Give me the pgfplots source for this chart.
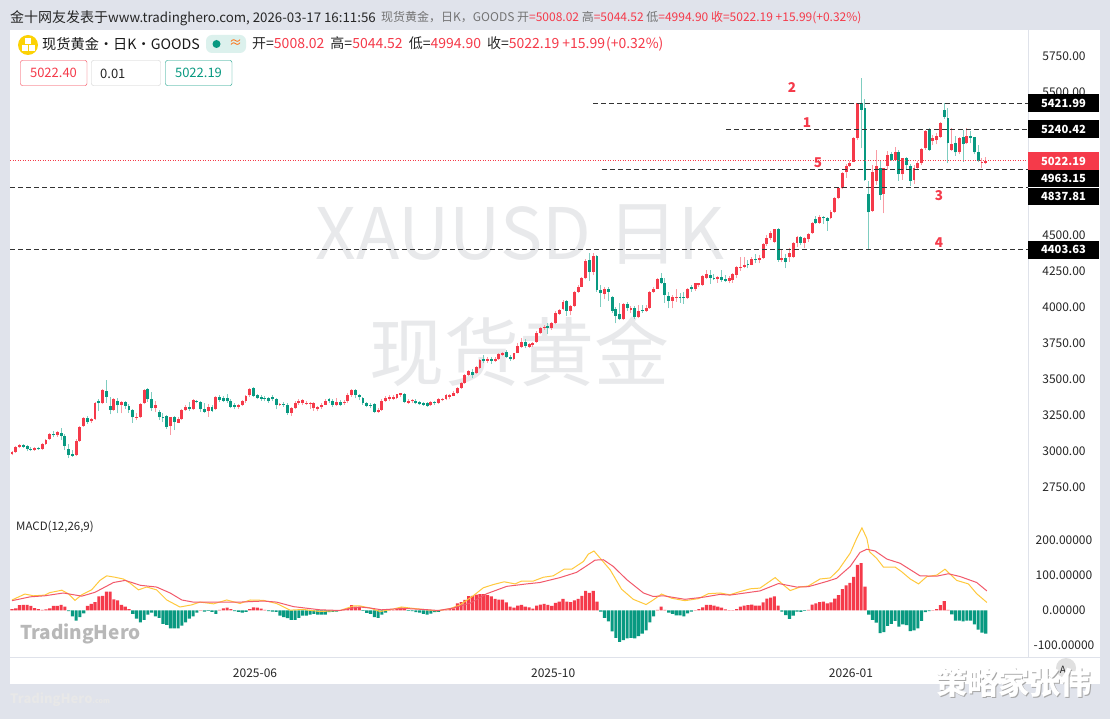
\documentclass[border=0pt]{standalone}
\usepackage{fontspec}
\setmainfont{Noto Sans CJK SC}
\usepackage{pgfplots}
\usepackage{pgfplotstable}
\pgfplotsset{compat=1.18}
\definecolor{upc}{HTML}{F53A4A}
\definecolor{dnc}{HTML}{089981}
\definecolor{upw}{HTML}{F99CA5}
\definecolor{dnw}{HTML}{7FCDC0}
\definecolor{bg}{HTML}{E0E3EB}
\definecolor{wm}{HTML}{E8E9EB}
\definecolor{sep}{HTML}{DFE2EA}
\definecolor{dif}{HTML}{FFC93C}
\definecolor{dea}{HTML}{F2596A}
\definecolor{lvl}{HTML}{333333}
\pgfplotstableread{
i o c h l
0 2977 2993 3002 2970
1 2993 3025 3034 2988
2 3025 3039 3046 3018
3 3041 3030 3048 3021
4 3034 3013 3041 2997
5 3016 3011 3025 2997
6 3007 3018 3025 3002
7 3018 3011 3025 3007
8 3014 3048 3053 3009
9 3048 3076 3081 3044
10 3081 3118 3123 3076
11 3118 3109 3141 3095
12 3109 3130 3137 3100
13 3127 3104 3160 3076
14 3104 3034 3118 3007
15 3016 2974 3048 2951
16 2977 2967 3007 2960
17 2970 3069 3081 2965
18 3069 3169 3174 3065
19 3174 3229 3239 3169
20 3229 3201 3243 3188
21 3206 3225 3229 3197
22 3220 3336 3340 3215
23 3350 3331 3359 3280
24 3331 3422 3429 3324
25 3420 3378 3494 3336
26 3313 3285 3378 3255
27 3285 3359 3366 3280
28 3350 3318 3366 3262
29 3318 3343 3350 3262
30 3338 3315 3350 3292
31 3315 3285 3327 3266
32 3285 3234 3290 3197
33 3234 3239 3262 3215
34 3234 3327 3331 3229
35 3331 3424 3429 3324
36 3431 3359 3438 3343
37 3359 3297 3411 3280
38 3299 3318 3345 3271
39 3273 3234 3285 3215
40 3239 3227 3262 3201
41 3243 3169 3250 3155
42 3174 3234 3239 3113
43 3239 3201 3243 3146
44 3197 3222 3234 3192
45 3220 3285 3290 3215
46 3285 3308 3317 3278
47 3308 3290 3343 3280
48 3290 3355 3364 3285
49 3350 3343 3355 3331
50 3341 3290 3350 3273
51 3294 3273 3331 3266
52 3280 3308 3327 3239
53 3308 3280 3322 3271
54 3290 3373 3382 3285
55 3373 3355 3389 3341
56 3369 3350 3382 3341
57 3366 3345 3396 3336
58 3345 3308 3359 3299
59 3322 3308 3331 3290
60 3308 3320 3327 3294
61 3320 3350 3355 3313
62 3345 3382 3392 3336
63 3387 3429 3436 3378
64 3440 3382 3447 3378
65 3389 3366 3396 3359
66 3378 3364 3389 3350
67 3366 3359 3382 3345
68 3366 3345 3378 3336
69 3378 3359 3392 3350
70 3359 3320 3369 3290
71 3320 3327 3336 3313
72 3327 3322 3343 3308
73 3322 3266 3331 3253
74 3266 3297 3304 3243
75 3297 3331 3345 3290
76 3331 3350 3359 3322
77 3336 3355 3359 3317
78 3331 3336 3345 3322
79 3327 3336 3341 3294
80 3297 3336 3343 3280
81 3290 3304 3313 3276
82 3304 3322 3331 3294
83 3322 3350 3359 3317
84 3359 3345 3369 3336
85 3350 3320 3364 3308
86 3320 3338 3366 3313
87 3341 3320 3355 3313
88 3336 3341 3355 3322
89 3345 3392 3401 3336
90 3390 3425 3432 3379
91 3425 3390 3432 3367
92 3390 3374 3397 3355
93 3367 3332 3374 3321
94 3337 3314 3341 3304
95 3323 3316 3332 3297
96 3328 3274 3332 3263
97 3274 3283 3297 3267
98 3286 3351 3360 3281
99 3351 3367 3383 3344
100 3362 3374 3390 3351
101 3365 3379 3390 3355
102 3367 3395 3399 3360
103 3392 3402 3406 3379
104 3397 3341 3402 3332
105 3337 3351 3360 3328
106 3346 3355 3365 3337
107 3351 3332 3365 3325
108 3341 3325 3351 3321
109 3337 3323 3344 3314
110 3332 3314 3339 3309
111 3318 3339 3346 3314
112 3341 3332 3348 3321
113 3337 3362 3372 3328
114 3355 3360 3369 3346
115 3362 3388 3395 3353
116 3379 3388 3395 3360
117 3386 3406 3418 3381
118 3402 3437 3448 3397
119 3437 3476 3483 3430
120 3471 3529 3536 3467
121 3529 3560 3567 3522
122 3553 3529 3569 3506
123 3541 3583 3592 3536
124 3576 3631 3638 3569
125 3638 3629 3669 3611
126 3629 3638 3657 3615
127 3638 3629 3652 3606
128 3629 3643 3652 3622
129 3638 3676 3685 3634
130 3669 3680 3692 3662
131 3692 3657 3703 3645
132 3657 3638 3671 3629
133 3638 3680 3685 3634
134 3685 3731 3750 3680
135 3727 3759 3785 3720
136 3761 3731 3778 3715
137 3727 3745 3754 3720
138 3736 3750 3761 3727
139 3759 3824 3838 3754
140 3819 3854 3866 3812
141 3854 3866 3875 3843
142 3870 3859 3889 3815
143 3854 3889 3901 3843
144 3889 3963 3973 3882
145 3954 3982 3991 3947
146 3986 4040 4051 3979
147 4042 3977 4051 3940
148 3977 4010 4019 3945
149 4010 4109 4116 4005
150 4107 4140 4153 4102
151 4144 4202 4214 4140
152 4202 4323 4334 4195
153 4330 4249 4381 4186
154 4249 4358 4376 4225
155 4360 4121 4367 4109
156 4121 4098 4156 4005
157 4093 4126 4140 4056
158 4128 4109 4140 4047
159 4070 3977 4079 3963
160 3986 3940 4005 3889
161 3954 3917 4028 3912
162 3917 4024 4033 3912
163 4024 3993 4040 3977
164 3982 3996 4010 3963
165 3996 3931 4010 3921
166 3931 3977 4014 3924
167 3982 3973 4017 3963
168 3977 3993 4017 3968
169 3993 4109 4116 3989
170 4107 4130 4140 4102
171 4130 4195 4202 4126
172 4202 4167 4242 4163
173 4172 4086 4205 4033
174 4079 4047 4109 3993
175 4047 4070 4086 3993
176 4065 4075 4126 4040
177 4075 4065 4102 4033
178 4070 4065 4109 4024
179 4065 4130 4137 4061
180 4140 4130 4153 4109
181 4126 4167 4172 4116
182 4153 4167 4172 4144
183 4158 4218 4225 4149
184 4205 4232 4260 4195
185 4228 4205 4260 4163
186 4205 4195 4232 4191
187 4195 4209 4218 4172
188 4209 4191 4260 4179
189 4200 4186 4223 4177
190 4186 4205 4218 4167
191 4191 4232 4237 4172
192 4228 4279 4288 4202
193 4279 4283 4348 4256
194 4283 4295 4348 4272
195 4302 4293 4330 4272
196 4297 4335 4348 4293
197 4335 4330 4372 4307
198 4330 4344 4365 4307
199 4342 4441 4451 4335
200 4441 4485 4504 4428
201 4481 4520 4534 4469
202 4458 4544 4548 4446
203 4546 4330 4550 4318
204 4330 4342 4400 4318
205 4342 4318 4372 4272
206 4349 4381 4411 4318
207 4353 4446 4458 4342
208 4451 4492 4499 4423
209 4492 4451 4499 4434
210 4451 4481 4492 4411
211 4474 4511 4520 4458
212 4516 4590 4597 4511
213 4616 4590 4636 4581
214 4590 4627 4641 4581
215 4629 4620 4636 4581
216 4620 4604 4632 4534
217 4620 4666 4678 4613
218 4666 4759 4766 4660
219 4759 4829 4840 4752
220 4829 4933 4945 4822
221 4940 4987 4996 4903
222 4987 5008 5019 4977
223 5015 5181 5189 5010
224 5177 5421 5421 5165
225 5421 5374 5594 5107
226 5390 4887 5451 4880
227 4789 4662 4880 4407
228 4671 4945 4991 4666
229 4880 4987 5093 4852
230 4973 4782 5019 4748
231 4787 4968 4973 4655
232 4987 5061 5089 4956
233 5066 5026 5079 5019
234 5026 5079 5119 5019
235 5084 4926 5096 4880
236 4926 5042 5042 4887
237 5042 4991 5049 4956
238 4987 4880 4996 4847
239 4887 4973 4991 4857
240 4968 5008 5019 4956
241 5003 5103 5112 4991
242 5107 5228 5237 5096
243 5242 5096 5251 5089
244 5158 5182 5200 5130
245 5165 5195 5212 5135
246 5188 5281 5288 5182
247 5374 5328 5421 5311
248 5321 5142 5386 5003
249 5096 5137 5246 5089
250 5142 5079 5195 5056
251 5079 5177 5188 5065
252 5184 5137 5235 5014
253 5142 5195 5246 5135
254 5195 5181 5228 5142
255 5184 5079 5188 5065
256 5079 5019 5130 5010
257 5006 5012 5038 4968
258 5008.02 5022.19 5044.52 4994.90
}\candles
\pgfplotstableread{
i v
0 4
1 6
2 15
3 16
4 16
5 13
6 7
7 4
8 2
9 3
10 6
11 13
12 13
13 16
14 11
15 -2
16 -17
17 -29
18 -19
19 -8
20 13
21 19
22 24
23 40
24 42
25 54
26 54
27 32
28 29
29 16
30 11
31 4
32 -10
33 -23
34 -34
35 -27
36 -12
37 -6
38 -17
39 -21
40 -38
41 -41
42 -51
43 -51
44 -51
45 -43
46 -34
47 -23
48 -17
49 -6
50 1
51 -3
52 -1
53 -4
54 -10
55 2
56 6
57 8
58 4
59 -2
60 -4
61 -6
62 -4
63 4
64 9
65 8
66 5
67 2
68 -2
69 -3
70 -4
71 -15
72 -19
73 -22
74 -27
75 -27
76 -21
77 -15
78 -15
79 -12
80 -10
81 -12
82 -12
83 -12
84 -5
85 -4
86 -3
87 -1
88 2
89 6
90 15
91 11
92 10
93 -1
94 -7
95 -10
96 -19
97 -21
98 -12
99 -6
100 1
101 1
102 5
103 9
104 4
105 -1
106 -2
107 -5
108 -6
109 -10
110 -12
111 -9
112 -5
113 -4
114 1
115 3
116 4
117 6
118 20
119 24
120 30
121 41
122 42
123 45
124 47
125 47
126 44
127 40
128 33
129 31
130 31
131 23
132 11
133 8
134 14
135 16
136 11
137 9
138 5
139 14
140 17
141 19
142 16
143 13
144 22
145 25
146 33
147 25
148 24
149 29
150 33
151 42
152 56
153 50
154 56
155 25
156 -3
157 -21
158 -31
159 -60
160 -78
161 -90
162 -85
163 -80
164 -78
165 -80
166 -73
167 -66
168 -57
169 -34
170 -17
171 2
172 11
173 2
174 -6
175 -10
176 -14
177 -14
178 -17
179 -8
180 -3
181 1
182 4
183 9
184 16
185 16
186 14
187 11
188 8
189 3
190 1
191 1
192 4
193 11
194 14
195 15
196 17
197 14
198 14
199 23
200 34
201 37
202 40
203 14
204 -3
205 -13
206 -24
207 -15
208 -3
209 -4
210 -1
211 2
212 17
213 20
214 24
215 25
216 20
217 23
218 34
219 44
220 61
221 72
222 79
223 96
224 130
225 135
226 68
227 -12
228 -27
229 -35
230 -65
231 -62
232 -44
233 -38
234 -30
235 -46
236 -40
237 -42
238 -59
239 -57
240 -51
241 -30
242 -5
243 -2
244 1
245 4
246 15
247 27
248 2
249 -11
250 -29
251 -29
252 -31
253 -29
254 -29
255 -40
256 -55
257 -63
258 -66
}\hist
\pgfplotsset{
  chartaxis/.style={
    scale only axis, width=1018pt, xmin=-0.53, xmax=269.2,
    axis line style={draw=none}, axis lines=box, clip=true,
    tick style={draw=none},
    yticklabel pos=right,
    tick label style={font=\fontsize{12}{12}\selectfont, text=black!85},
    y tick label style={anchor=center, xshift=36pt},
    /pgf/number format/assume math mode=true,
    /pgf/number format/1000 sep={},
    /pgf/number format/fixed, /pgf/number format/fixed zerofill,
  },
  wick/.style={draw=none, mark=none, forget plot, /pgfplots/error bars/y dir=plus, /pgfplots/error bars/y explicit, /pgfplots/error bars/error mark=none,
    /pgfplots/error bars/error bar style={line width=1pt, solid, draw=#1}},
  body/.style={draw=none, mark=none, forget plot, /pgfplots/error bars/y dir=plus, /pgfplots/error bars/y explicit, /pgfplots/error bars/error mark=none,
    /pgfplots/error bars/error bar style={line width=2.9pt, solid, draw=#1}},
}
\newcommand{\wmfont}{\fontsize{75}{75}\selectfont}
\begin{document}
\begin{tikzpicture}
\begin{scope}[x=1pt,y=-1pt]
\path[use as bounding box] (0,0) rectangle (1110,719);
\fill[bg] (0,0) rectangle (1110,719);
\fill[white] (10,30) rectangle (1100,684);
% watermarks
\node[text=wm, font=\fontsize{71}{71}\selectfont, anchor=center] at (520,235) {XAUUSD 日K};
\node[text=wm, font=\wmfont, anchor=center] at (519,352) {现货黄金};
\node[text=black!28, font=\bfseries\fontsize{19}{19}\selectfont, anchor=west, inner sep=0] at (20,634) {TradingHero};
\node[text=black!9, font=\bfseries\fontsize{13}{13}\selectfont, anchor=west, inner sep=0] at (10,700) {TradingHero\fontsize{7}{7}\selectfont.com};
% separators
\draw[sep] (10,657) -- (1100,657);
\draw[sep] (1028.5,30) -- (1028.5,657);
\end{scope}
% price axis
\begin{axis}[chartaxis, at={(10pt,-34pt)}, anchor=north west, height=476pt,
  ymin=2589.25, ymax=5903.1,
  ytick={2750,3000,3250,3500,3750,4000,4250,4500,5500,5750},
  xtick=\empty, /pgf/number format/precision=2]
\addplot[wick=upw, restrict expr to domain={\thisrow{c}-\thisrow{o}}{0:100000}]
  table[x=i, y=l, y error plus expr=\thisrow{h}-\thisrow{l}] {\candles};
\addplot[wick=dnw, restrict expr to domain={\thisrow{c}-\thisrow{o}}{-100000:-0.001}]
  table[x=i, y=l, y error plus expr=\thisrow{h}-\thisrow{l}] {\candles};
\addplot[body=upc, restrict expr to domain={\thisrow{c}-\thisrow{o}}{0:100000}]
  table[x=i, y=o, y error plus expr=\thisrow{c}-\thisrow{o}] {\candles};
\addplot[body=dnc, restrict expr to domain={\thisrow{c}-\thisrow{o}}{-100000:-0.001}]
  table[x=i, y=c, y error plus expr=\thisrow{o}-\thisrow{c}] {\candles};
\addplot[lvl, line width=0.9pt, dash pattern=on 5pt off 3pt, forget plot] coordinates {(154,5421.99)(269.2,5421.99)};
\addplot[lvl, line width=0.9pt, dash pattern=on 5pt off 3pt, forget plot] coordinates {(189.2,5240.42)(269.2,5240.42)};
\addplot[lvl, line width=0.9pt, dash pattern=on 5pt off 3pt, forget plot] coordinates {(156.3,4963.15)(269.2,4963.15)};
\addplot[lvl, line width=0.9pt, dash pattern=on 5pt off 3pt, forget plot] coordinates {(-0.53,4837.81)(269.2,4837.81)};
\addplot[lvl, line width=0.9pt, dash pattern=on 5pt off 3pt, forget plot] coordinates {(-0.53,4403.63)(269.2,4403.63)};
\addplot[upc, line width=0.8pt, dash pattern=on 1pt off 1.5pt, forget plot] coordinates {(-0.53,5022.19)(269.2,5022.19)};
\end{axis}
% MACD axis
\begin{axis}[chartaxis, at={(10pt,-514pt)}, anchor=north west, height=143pt,
  ymin=-132.9, ymax=275.7,
  ytick={-100,0,100,200},
  xtick={64.4,143.4,222.3}, xticklabels={2025-06,2025-10,2026-01},
  x tick label style={yshift=-8pt},
  /pgf/number format/precision=5]
\addplot[ybar, bar width=3.1pt, bar shift=0pt, fill=upc, draw=none, forget plot, restrict y to domain=0:1000] table[x=i,y=v] {\hist};
\addplot[ybar, bar width=3.1pt, bar shift=0pt, fill=dnc, draw=none, forget plot, restrict y to domain=-1000:0] table[x=i,y=v] {\hist};
\addplot[dif, line width=1pt, forget plot] coordinates {
(0,30)(3.4,47)(5.7,42)(8.7,44)(10,51)(13.2,58)(14.9,48)(16.7,29)(18.5,45)(21.1,59)(23.3,86)(25.1,99)(27.3,95)(29.5,90)(31.3,78)(33.5,59)(35.7,67)(38.3,59)(41,30)(44.5,10)(47.6,16)(49.8,24)(53.4,19)(56.9,30)(60.4,20)(63.1,30)(66.6,29)(70.1,20)(73.7,1)(77.2,3)(81.6,-3)(86.9,0)(90.5,13)(92.2,13)
(94.9,7)(97.5,-3)(101,4)(103.2,10)(106.3,6)(109.9,2)(112.5,-1)(116,5)(118.7,16)(122.2,42)(124.9,65)(127.5,74)(130.4,82)(133.3,76)(135,84)(138.1,84)(140.8,95)(143.4,99)(146.3,118)(148.3,118)(151.4,140)(152.7,161)(154.2,170)(155.8,150)(158.5,116)(161.5,61)(164.6,32)(168,17)(169.9,30)(172.1,47)(174.8,35)(178.3,28)(181.9,34)(184.5,48)(187.6,50)
(190.2,45)(192.9,54)(195.6,62)(198.2,64)(202.2,94)(204.4,73)(206.2,57)(208.8,67)(211,70)(214.1,90)(216.8,93)(219,116)(222.1,164)(223.8,206)(225.2,236)(226.5,206)(227.2,168)(229.1,149)(230.9,124)(234,124)(235.7,111)(238,90)(240.2,76)(242.4,97)(245,101)(247.2,118)(250.3,86)(253.4,76)(255.6,48)(258.3,23)};
\addplot[dea, line width=1pt, forget plot] coordinates {
(0,28)(4.8,39)(8.7,42)(13.6,50)(18.5,41)(22,52)(26.9,80)(30,86)(34,72)(38.3,67)(41.9,50)(45,30)(48,24)(53.4,24)(60.4,24)(66.6,27)(70.1,24)(74.6,11)(81.6,2)(86.9,0)(89.6,6)(92.2,10)
(94.9,7)(97.9,2)(103.7,6)(109,3)(113,0)(116.9,7)(121.4,21)(125.8,48)(131.1,69)(136.4,76)(139.9,80)(145.2,94)(149.6,109)(152.3,128)(154.5,144)(156.7,145)(159.3,126)(162.9,88)(167.3,50)(169.9,40)(172.6,42)(178.3,32)(183.2,38)(187.6,46)
(190.2,44)(192.9,48)(198.2,56)(203.1,77)(207.9,67)(211,68)(215.9,83)(218.5,92)(222.1,126)(224.7,166)(226.5,175)(228.7,170)(231.8,147)(235.3,135)(240.6,99)(245,98)(248.1,105)(251.2,97)(255.6,80)(258.3,56)};
\end{axis}
\begin{scope}[x=1pt,y=-1pt]
% price tags
\foreach \ya/\yb/\col/\txt in {94/112/black/5421.99, 120.5/138/black/5240.42, 170/187.3/black/4963.15, 187.8/205/black/4837.81, 241/258.5/black/4403.63, 152/170/upc/5022.19}{
  \fill[\col] (1028,\ya) rectangle (1099,\yb);
  \node[text=white, font=\bfseries\fontsize{11.2}{12}\selectfont] at (1063.5,{(\ya+\yb)/2}) {\txt};
}
% header
\node[anchor=west, inner sep=0, text=black!85, font=\fontsize{14}{14}\selectfont] at (10,18) {金十网友发表于{\fontsize{13.3}{14}\selectfont www.tradinghero.com, 2026-03-17 16:11:56}};
\node[anchor=west, inner sep=0, text=black!55, font=\fontsize{12}{12}\selectfont] at (381,18) {现货黄金，日K，GOODS 开\textcolor{upc}{=5008.02} 高\textcolor{upc}{=5044.52} 低\textcolor{upc}{=4994.90} \textcolor{upc}{收=5022.19 +15.99(+0.32\%)}};
\fill[yellow!70!orange] (28,45) circle (10);
\fill[white] (25,38.5) rectangle (31,44);
\fill[white] (21.5,45.5) rectangle (27.5,51);
\fill[white] (28.5,45.5) rectangle (34.5,51);
\node[anchor=west, inner sep=0, text=black!90, font=\fontsize{14.2}{15}\selectfont] at (42,44) {现货黄金・日K・GOODS};
\fill[rounded corners=6pt, dnc!14] (206,35) rectangle (246,53);
\fill[dnc] (216.5,44) circle (4);
\node[text=orange!80!red, font=\fontsize{13}{13}\selectfont, inner sep=0] at (235.5,44) {≈};
\node[anchor=west, inner sep=0, text=black!85, font=\fontsize{14}{14}\selectfont] at (252,44) {开=\textcolor{upc}{5008.02}\hspace{6pt}高=\textcolor{upc}{5044.52}\hspace{6pt}低=\textcolor{upc}{4994.90}\hspace{6pt}收=\textcolor{upc}{5022.19\hspace{3pt}+15.99\hspace{1pt}(+0.32\%)}};
\draw[upc, rounded corners=2pt] (20.5,60.5) rectangle (87,85.5);
\draw[black!20, rounded corners=2pt] (91.5,60.5) rectangle (160.5,85.5);
\draw[dnc, rounded corners=2pt] (165.5,60.5) rectangle (232,85.5);
\node[text=upc, font=\fontsize{13}{13}\selectfont] at (53.5,73) {5022.40};
\node[text=black!85, anchor=west, inner sep=0, font=\fontsize{13}{13}\selectfont] at (100,73.5) {0.01};
\node[text=dnc, font=\fontsize{13}{13}\selectfont] at (198.5,73) {5022.19};
% labels on chart
\foreach \xa/\ya/\txt in {792/88/2, 807/123/1, 818/163/5, 939/196/3, 939/243/4}{
  \node[text=upc, font=\bfseries\fontsize{13.5}{14}\selectfont, inner sep=0] at (\xa,\ya) {\txt};
}
\node[anchor=west, inner sep=0, text=black!85, font=\fontsize{11.5}{12}\selectfont] at (16,527) {MACD(12,26,9)};
% auto button and signature
\fill[black!12] (1066,668) circle (10);
\node[text=black!85, font=\fontsize{10}{10}\selectfont, inner sep=0] at (1063,670) {A};
\node[text=black!35, font=\bfseries\fontsize{31}{31}\selectfont, inner sep=0] at (1014.5,683.5) {策略家张伟};
\node[text=white, font=\bfseries\fontsize{31}{31}\selectfont, inner sep=0] at (1013.5,682.5) {策略家张伟};
\end{scope}
\end{tikzpicture}
\end{document}
